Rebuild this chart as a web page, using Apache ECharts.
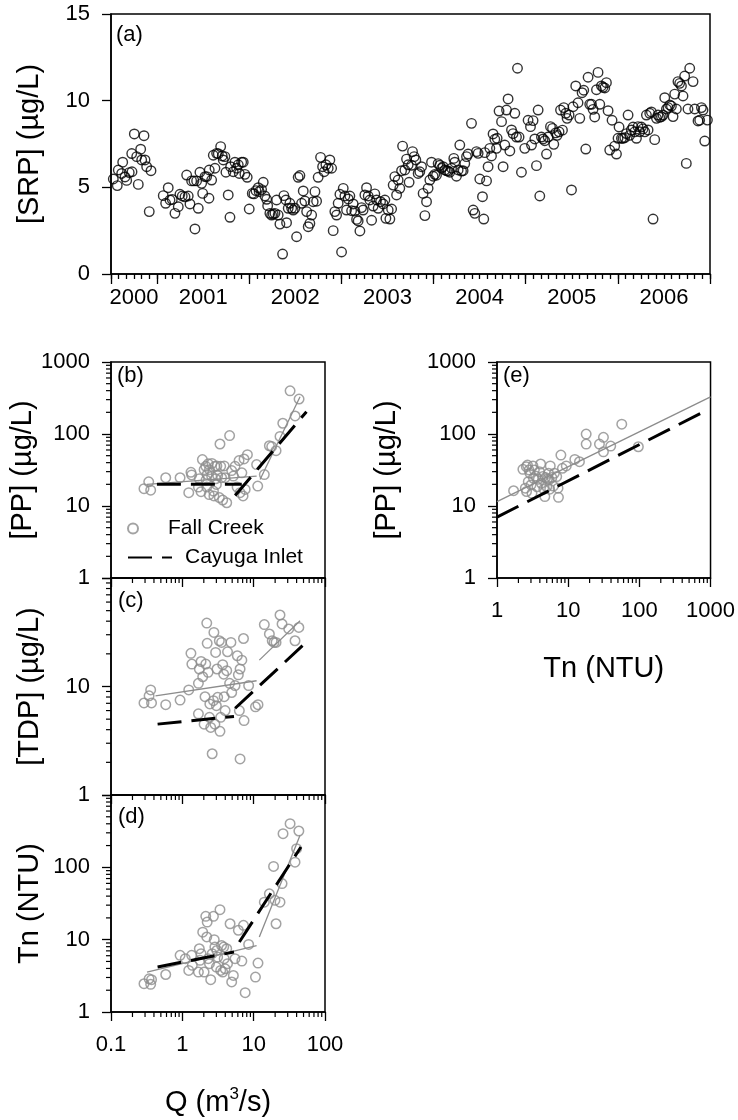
<!DOCTYPE html>
<html><head><meta charset="utf-8">
<script src="https://cdn.jsdelivr.net/npm/echarts@6/dist/echarts.min.js"></script>
<style>html,body{margin:0;padding:0;background:#fff}#c{width:738px;height:1120px}</style>
</head><body><div id="c"></div><script>
// ---------- DATA ----------
// (a) SRP time series
const srpYear = [2000.525,2000.568,2000.579,2000.616,2000.627,2000.652,2000.670,2000.698,2000.725,2000.728,2000.753,2000.779,2000.796,2000.822,2000.833,2000.858,2000.869,2000.887,2000.915,2000.934,
2001.067,2001.093,2001.121,2001.140,2001.165,2001.194,2001.230,2001.248,2001.273,2001.303,2001.321,2001.338,2001.357,2001.375,2001.400,2001.411,2001.429,2001.447,2001.465,2001.484,2001.495,2001.520,2001.538,2001.563,2001.566,2001.592,2001.610,2001.628,2001.646,2001.664,2001.690,2001.707,2001.718,2001.736,2001.747,2001.772,2001.791,2001.798,2001.826,2001.845,2001.863,2001.881,2001.892,2001.918,2001.935,2001.953,2001.978,2002.000,
2002.033,2002.051,2002.073,2002.098,2002.108,2002.134,2002.152,2002.170,2002.189,2002.200,2002.224,2002.243,2002.260,2002.279,2002.297,2002.314,2002.333,2002.362,2002.376,2002.398,2002.405,2002.423,2002.441,2002.460,2002.477,2002.496,2002.514,2002.531,2002.550,2002.568,2002.586,2002.604,2002.623,2002.640,2002.658,2002.677,2002.694,2002.713,2002.731,2002.748,2002.774,2002.796,2002.813,2002.832,2002.857,2002.875,2002.894,2002.911,2002.929,2002.948,2002.965,2002.984,2003.002,
2003.020,2003.038,2003.056,2003.074,2003.092,2003.111,2003.128,2003.146,2003.165,2003.182,2003.201,2003.219,2003.236,2003.255,2003.273,2003.291,2003.309,2003.328,2003.345,2003.363,2003.382,2003.399,2003.425,2003.453,2003.472,2003.483,2003.508,2003.526,2003.545,2003.562,2003.580,2003.599,2003.616,2003.634,2003.653,2003.664,2003.689,2003.707,2003.725,2003.735,2003.761,2003.772,2003.790,2003.808,2003.833,2003.851,2003.870,2003.887,2003.906,2003.924,2003.941,2003.960,2003.978,2003.996,
2004.014,2004.032,2004.050,2004.068,2004.087,2004.104,2004.123,2004.141,2004.158,2004.177,2004.195,2004.220,2004.231,2004.249,2004.267,2004.285,2004.304,2004.321,2004.339,2004.358,2004.375,2004.412,2004.430,2004.448,2004.466,2004.484,2004.502,2004.531,2004.545,2004.556,2004.575,2004.592,2004.611,2004.629,2004.646,2004.665,2004.683,2004.690,2004.711,2004.738,2004.755,2004.773,2004.792,2004.809,2004.828,2004.846,2004.863,2004.882,2004.900,2004.911,2004.928,2004.954,2004.990,
2005.026,2005.052,2005.063,2005.080,2005.099,2005.117,2005.135,2005.153,2005.171,2005.189,2005.207,2005.226,2005.243,2005.269,2005.291,2005.305,2005.326,2005.341,2005.362,2005.378,2005.399,2005.413,2005.435,2005.449,2005.471,2005.497,2005.514,2005.543,2005.568,2005.587,2005.612,2005.630,2005.652,2005.677,2005.695,2005.714,2005.731,2005.749,2005.768,2005.785,2005.804,2005.822,2005.839,2005.858,2005.876,2005.894,2005.912,2005.937,2005.966,2005.985,
2006.002,2006.013,2006.039,2006.056,2006.075,2006.093,2006.111,2006.129,2006.147,2006.165,2006.183,2006.202,2006.219,2006.237,2006.256,2006.273,2006.292,2006.310,2006.328,2006.346,2006.364,2006.382,2006.400,2006.419,2006.436,2006.454,2006.473,2006.490,2006.509,2006.527,2006.545,2006.563,2006.581,2006.599,2006.617,2006.635,2006.652,2006.671,2006.690,2006.707,2006.725,2006.743,2006.761,2006.780,2006.816,2006.834,2006.870,2006.888,2006.907,2006.924,2006.943,2006.972];
const srpValue = [5.48,5.10,6.00,5.80,6.45,5.60,5.40,5.85,6.95,5.90,8.08,6.77,5.17,7.20,6.58,7.98,6.58,6.19,3.60,5.96,
4.52,4.08,4.98,4.27,4.30,3.50,3.88,4.60,4.50,4.45,5.71,4.50,4.04,5.37,5.37,2.60,5.37,3.79,5.87,5.23,4.65,5.62,5.62,4.37,6.00,5.42,6.85,6.10,6.96,6.94,7.35,6.81,6.58,6.77,5.87,4.56,3.27,6.19,5.90,6.45,6.10,6.30,5.80,6.45,6.45,5.75,5.58,3.75,
4.65,4.62,4.81,4.98,4.75,4.87,5.29,4.50,4.31,3.94,3.50,3.40,3.46,3.50,4.27,3.40,2.88,1.15,4.52,4.27,2.96,3.79,4.08,3.79,3.69,3.79,2.15,5.58,5.68,4.08,4.79,4.21,3.60,2.73,2.92,3.40,4.17,4.75,4.20,5.58,6.73,6.19,5.90,6.30,6.10,6.58,6.10,2.50,3.60,3.40,4.08,4.60,1.27,
4.94,4.50,3.69,4.33,4.50,3.65,4.04,3.63,3.15,3.06,2.48,3.83,3.69,4.56,4.98,4.50,4.27,3.10,3.92,4.62,4.27,3.79,4.17,4.04,4.27,3.21,3.69,3.17,3.75,5.13,5.62,4.56,5.42,4.94,5.96,7.38,6.00,6.63,6.30,5.29,6.27,7.06,6.77,6.58,5.80,5.90,6.19,4.65,3.37,4.17,4.94,5.42,6.45,5.64,
5.75,5.70,6.37,6.27,6.10,6.19,6.00,5.96,5.94,5.87,6.10,6.67,6.45,5.64,6.00,7.44,5.94,5.96,6.37,6.77,6.92,8.69,3.69,3.50,7.06,6.96,5.48,4.46,3.17,7.00,5.37,6.19,7.25,6.81,8.08,7.77,7.25,7.83,9.40,8.79,6.19,7.44,9.46,10.10,7.10,8.31,8.10,9.27,7.90,11.87,7.90,5.87,7.25,
8.87,8.50,7.44,8.85,7.79,6.25,9.46,4.50,7.90,7.79,7.69,6.92,7.90,8.50,8.40,7.48,8.14,8.00,8.20,9.46,8.30,9.60,9.27,8.98,9.17,4.85,9.65,10.85,9.88,8.98,10.46,10.60,7.21,11.35,9.79,9.79,9.50,9.06,10.63,11.63,9.79,10.85,10.77,10.73,11.04,9.42,7.15,8.87,7.38,6.92,
7.83,8.48,7.83,7.83,7.87,8.10,9.17,8.00,8.31,8.48,8.20,7.83,8.50,8.21,8.48,8.37,8.20,9.17,8.31,9.27,9.35,3.17,7.75,8.98,9.17,9.04,9.08,9.17,10.17,9.52,9.60,9.75,9.69,9.08,10.38,9.52,11.10,11.00,10.85,10.27,11.42,6.38,9.52,11.87,11.10,9.52,8.83,8.87,9.60,9.46,7.67,8.88];
const yearLabelPos = [2000.75, 2001.5, 2002.5, 2003.5, 2004.5, 2005.5, 2006.5];
const yearLabels = ['2000', '2001', '2002', '2003', '2004', '2005', '2006'];

// (b) Q vs PP (Fall Creek)
const qB = [0.29,0.338,0.36,0.585,0.93,1.23,1.32,1.35,1.68,1.73,1.83,1.91,2.02,2.13,2.15,2.2,2.23,2.31,2.38,2.4,2.58,2.6,2.73,2.77,2.86,2.93,3.0,3.05,3.13,3.3,3.37,3.45,3.55,3.68,3.86,3.98,4.19,4.6,4.92,5.19,5.48,5.86,6.24,6.45,6.83,7.1,7.33,7.6,8.17,11.0,11.4,14.1,16.6,17.9,20.6,23.4,25.6,32.4,38.1,43.3];
const ppB = [17.4,21.7,16.6,24.7,24.7,15.3,29.4,27,18.3,23.9,15.8,44.1,32,35.6,22.9,18.3,27.4,38.5,14.4,32,25.9,39,16.1,13.8,35.6,23.9,19.9,36,26.5,13.1,72.6,35.6,24.7,12.1,36,24.7,11.1,95,31,26,35.6,18.3,42.7,15.3,28.9,13.8,45,17,51.6,37.6,18.9,27.3,68.7,67,58.7,92.5,141,398,178,306];
// (c) Q vs TDP
const qC = [0.29,0.342,0.36,0.37,0.585,0.93,1.23,1.32,1.36,1.68,1.68,1.73,1.83,1.93,2.02,2.08,2.13,2.2,2.23,2.3,2.4,2.43,2.5,2.62,2.73,2.77,2.86,2.93,3.0,3.06,3.13,3.3,3.37,3.45,3.55,3.68,3.8,3.86,3.98,4.19,4.3,4.6,4.8,4.92,5.48,5.9,6.1,6.3,6.45,6.83,7.2,7.33,6.45,8.5,10.6,11.5,14.1,16.6,18.2,19.3,20.6,23.4,25,31,38,43];
const tdpC = [7.05,8.2,9.3,7.05,6.8,7.5,9.3,20.2,16.1,10.7,5.6,14.5,17,12.3,4.5,8.05,16.1,38.4,25,13.5,5.2,6.9,4.2,2.4,7.4,31.5,4.5,20.6,6.65,14.5,7.95,26.4,3.86,5.2,25.5,15.9,13,8.05,6.0,14,20.9,10.7,25.5,8.8,10.2,19.2,12.8,6.0,14.5,17.5,27.7,4.85,2.15,10.2,6.5,6.8,37.2,30.5,26.4,25.5,25.5,45.6,37.7,33.9,26.4,35];
// (d) Q vs Tn
const qD = [0.29,0.342,0.36,0.37,0.585,0.93,1.1,1.23,1.35,1.38,1.68,1.73,1.77,1.83,1.93,2.02,2.13,2.2,2.23,2.3,2.4,2.5,2.62,2.73,2.8,2.86,3.0,3.05,3.13,3.37,3.45,3.55,3.68,3.8,3.86,3.98,4.19,4.3,4.67,4.92,5.19,5.48,6.1,6.83,7.2,7.6,8.5,10.6,11.5,14.1,16.6,19,19.9,20.6,23.4,25,25.8,32.4,38,40,43];
const tnD = [2.46,2.88,2.41,2.8,3.3,6.07,5.46,3.76,6.07,4.42,3.56,7.5,5.18,6.4,12.7,3.56,21,10.9,17.5,5.46,4.66,2.8,6.4,21,10,7.9,4.18,7.1,5.74,26,3.76,8.3,3.56,7.9,5.46,3.96,7.5,4.66,16.6,2.6,3.2,5.46,13.5,5.06,15.8,1.85,8.6,3.04,4.75,33,43,103,35,16.6,33,59.6,292,402,118,181,318];
// (e) Tn vs PP
const tnE = [1.71,2.31,2.5,2.58,2.6,2.68,2.75,2.82,2.9,3.0,3.1,3.2,3.25,3.35,3.5,3.65,3.8,3.95,4.1,4.2,4.4,4.55,4.7,4.8,5.0,5.1,5.3,5.4,5.5,5.6,5.9,6.2,6.4,6.9,7.2,7.3,7.9,8.3,9.4,12.4,14.4,17.9,17.9,27.5,31.3,31.3,39.6,56.6,96.8];
const ppE = [16.3,32.3,17.7,35.2,15.9,37,21.8,31.6,28.5,19.6,15,36,24.3,31.6,26,18.5,23.5,30,38.3,20.7,25.6,17.1,13.5,24.8,18.5,23.7,28.5,23.2,17.1,36,24.8,18.9,28.5,25.6,17.7,13.2,51,33.4,36,44.4,41.2,99.7,72.5,72.5,89.8,56.6,68,137,66.5];

// fitted segments: [[x1,y1],[x2,y2]]
const fcFitB = [[[0.32, 20], [11, 26]], [[12.3, 23.4], [44.7, 329]]];
const ciFitB = [[[0.44, 20], [6.8, 20]], [[5.5, 14], [55, 204]]];
const fcFitC = [[[0.42, 8.2], [11, 11.3]], [[12, 17.5], [44.7, 40.4]]];
const ciFitC = [[[0.45, 4.5], [5.3, 5.3]], [[5.5, 6.3], [55.6, 25.9]]];
const fcFitD = [[[0.32, 3.56], [11, 8.3]], [[12, 10.9], [44.7, 277]]];
const ciFitD = [[[0.45, 4.2], [5.3, 6.75]], [[6.3, 9.3], [46, 191]]];
const fcFitE = [[[1, 11.5], [1000, 327]]];
const ciFitE = [[[1, 7], [800, 203]]];

// ---------- STYLE / HELPERS ----------
const FONT = '"Liberation Sans", Arial, Helvetica, sans-serif';
const GRAY = '#8c8c8c';
const TICK_FS = 22, TITLE_FS = 29;
function pairs(xs, ys) { return xs.map((x, i) => [x, ys[i]]); }
function fmt(v) { return String(+(+v).toPrecision(6)); }
function minorLog(lo, hi) {
  const out = [];
  for (let e = Math.round(Math.log10(lo)); e < Math.round(Math.log10(hi)); e++)
    for (let m = 2; m <= 9; m++) out.push(+(m * Math.pow(10, e)).toPrecision(6));
  return out;
}
const lineBlack = { color: '#000', width: 1.5 };
const tickStyle = { color: '#000', width: 1.3 };
const labelBase = { color: '#000', fontFamily: FONT, fontSize: TICK_FS };
const nameBase = { color: '#000', fontFamily: FONT, fontSize: TITLE_FS };

function logXAxis(grid, min, max, show, name) {
  return {
    gridIndex: grid, type: 'log', logBase: 10, min, max, position: 'bottom',
    axisLine: { show: true, onZero: false, lineStyle: lineBlack },
    axisTick: { show: true, length: 9, lineStyle: tickStyle },
    splitLine: { show: false }, minorTick: { show: false },
    axisLabel: Object.assign({ show: show, margin: 22, formatter: fmt }, labelBase),
    name: name || '', nameLocation: 'middle', nameGap: 74,
    nameTextStyle: Object.assign({
      rich: {
        n: { fontSize: TITLE_FS, fontFamily: FONT, color: '#000', lineHeight: 33 },
        sup: { fontSize: 17, fontFamily: FONT, color: '#000', verticalAlign: 'top', lineHeight: 33, padding: [0, 0, 12, 0] }
      }
    }, nameBase)
  };
}
function logYAxis(grid, min, max, hide, name, gap) {
  return {
    gridIndex: grid, type: 'log', logBase: 10, min, max,
    axisLine: { show: true, onZero: false, lineStyle: lineBlack },
    axisTick: { show: true, length: 9, lineStyle: tickStyle },
    splitLine: { show: false }, minorTick: { show: false },
    axisLabel: Object.assign({ margin: 21, formatter: v => (hide.indexOf(+fmt(v)) >= 0 ? '' : fmt(v)) }, labelBase),
    name, nameLocation: 'middle', nameGap: gap, nameTextStyle: nameBase
  };
}
function tickSeries(xi, yi, vals, dim, anchor, len) {
  return {
    type: 'custom', xAxisIndex: xi, yAxisIndex: yi, clip: false, silent: true, z: 10,
    data: vals.map(v => dim === 'x' ? [v, anchor] : [anchor, v]),
    renderItem: (params, api) => {
      const p = api.coord([api.value(0), api.value(1)]);
      const shape = dim === 'x'
        ? { x1: p[0], y1: p[1], x2: p[0], y2: p[1] + len }
        : { x1: p[0], y1: p[1], x2: p[0] - len, y2: p[1] };
      return { type: 'line', shape, style: { stroke: '#000', lineWidth: 1.2 } };
    }
  };
}
function scatterGray(name, xi, yi, data) {
  return {
    name, type: 'scatter', xAxisIndex: xi, yAxisIndex: yi, data, symbol: 'circle', symbolSize: 9.5, z: 2,
    itemStyle: { color: 'rgba(255,255,255,0)', borderColor: GRAY, borderWidth: 1.5 }
  };
}
function segSeries(names, xi, yi, segs, dashed) {
  return segs.map((s, i) => ({
    name: names[i], type: 'line', xAxisIndex: xi, yAxisIndex: yi, data: s,
    symbol: 'none', showSymbol: false, z: dashed ? 4 : 3, silent: true,
    itemStyle: { color: 'rgba(0,0,0,0)', borderWidth: 0 },
    lineStyle: dashed ? { color: '#000', width: 3, type: [24, 10] } : { color: GRAY, width: 1.3 }
  }));
}

const grids = [
  { left: 111, top: 14, width: 599, height: 260 },
  { left: 111, top: 362, width: 214, height: 216 },
  { left: 111, top: 578, width: 214, height: 217 },
  { left: 111, top: 795, width: 214, height: 217 },
  { left: 497, top: 362, width: 214, height: 216 }
].map(g => Object.assign({ show: true, borderColor: '#000', borderWidth: 1.5, backgroundColor: 'transparent' }, g));

const xAxes = [
  { gridIndex: 0, type: 'value', min: 2000.5, max: 2007, interval: 0.25, position: 'bottom',
    axisLine: { show: true, onZero: false, lineStyle: lineBlack }, axisTick: { show: false }, splitLine: { show: false },
    axisLabel: Object.assign({ margin: 13, formatter: v => {
      const i = yearLabelPos.findIndex(p => Math.abs(p - v) < 1e-6); return i >= 0 ? yearLabels[i] : ''; } }, labelBase) },
  { gridIndex: 0, type: 'value', min: -2007, max: -2000.5, interval: 1, inverse: true, position: 'bottom',
    axisLine: { show: false, onZero: false }, axisTick: { show: true, length: 10, lineStyle: tickStyle },
    axisLabel: { show: false }, splitLine: { show: false } },
  { gridIndex: 0, type: 'value', min: 0, max: 78, interval: 1, position: 'bottom',
    axisLine: { show: false, onZero: false }, axisTick: { show: true, length: 5, lineStyle: tickStyle },
    axisLabel: { show: false }, splitLine: { show: false } },
  logXAxis(1, 0.1, 100, false),
  logXAxis(2, 0.1, 100, false),
  logXAxis(3, 0.1, 100, true, '{n|Q (m}{sup|3}{n|/s)}'),
  logXAxis(4, 1, 1000, true, '{n|Tn (NTU)}')
];
const yAxes = [
  { gridIndex: 0, type: 'value', min: 0, max: 15, interval: 5,
    axisLine: { show: true, onZero: false, lineStyle: lineBlack }, axisTick: { show: true, length: 9, lineStyle: tickStyle },
    splitLine: { show: false }, axisLabel: Object.assign({ margin: 21 }, labelBase),
    name: '[SRP] (µg/L)', nameLocation: 'middle', nameGap: 67, nameTextStyle: nameBase },
  logYAxis(1, 1, 1000, [], '[PP] (µg/L)', 67),
  logYAxis(2, 1, 100, [100], '[TDP] (µg/L)', 67),
  logYAxis(3, 1, 1000, [1000], 'Tn (NTU)', 67),
  logYAxis(4, 1, 1000, [], '[PP] (µg/L)', 96)
];

const series = [
  { name: 'SRP', type: 'scatter', xAxisIndex: 0, yAxisIndex: 0, data: pairs(srpYear, srpValue),
    symbol: 'circle', symbolSize: 9.5, itemStyle: { color: 'rgba(255,255,255,0)', borderColor: '#000', borderWidth: 1.4 } },
  scatterGray('Fall Creek', 3, 1, pairs(qB, ppB)),
  ...segSeries(['fcB1', 'fcB2'], 3, 1, fcFitB, false),
  ...segSeries(['Cayuga Inlet', 'ciB2'], 3, 1, ciFitB, true),
  scatterGray('fcC', 4, 2, pairs(qC, tdpC)),
  ...segSeries(['fcC1', 'fcC2'], 4, 2, fcFitC, false),
  ...segSeries(['ciC1', 'ciC2'], 4, 2, ciFitC, true),
  scatterGray('fcD', 5, 3, pairs(qD, tnD)),
  ...segSeries(['fcD1', 'fcD2'], 5, 3, fcFitD, false),
  ...segSeries(['ciD1', 'ciD2'], 5, 3, ciFitD, true),
  scatterGray('fcE', 6, 4, pairs(tnE, ppE)),
  ...segSeries(['fcE1'], 6, 4, fcFitE, false),
  ...segSeries(['ciE1'], 6, 4, ciFitE, true),
  // log minor ticks
  tickSeries(3, 1, minorLog(0.1, 100), 'x', 1, 5),
  tickSeries(4, 2, minorLog(0.1, 100), 'x', 1, 5),
  tickSeries(5, 3, minorLog(0.1, 100), 'x', 1, 5),
  tickSeries(6, 4, minorLog(1, 1000), 'x', 1, 5),
  tickSeries(3, 1, minorLog(1, 1000), 'y', 0.1, 5),
  tickSeries(4, 2, minorLog(1, 100), 'y', 0.1, 5),
  tickSeries(5, 3, minorLog(1, 1000), 'y', 0.1, 5),
  tickSeries(6, 4, minorLog(1, 1000), 'y', 1, 5)
];

const panelText = (t, x, y) => ({ type: 'text', x, y, style: { text: t, font: '22px ' + FONT, fill: '#000', textVerticalAlign: 'top' } });

const chart = echarts.init(document.getElementById('c'), null, { renderer: 'canvas' });
chart.setOption({
  animation: false,
  backgroundColor: '#fff',
  grid: grids,
  xAxis: xAxes,
  yAxis: yAxes,
  legend: [
    { data: ['Fall Creek'], left: 127, top: 518, padding: 0, itemWidth: 44, itemHeight: 10, selectedMode: false,
      textStyle: { fontFamily: FONT, fontSize: 21, color: '#000', padding: [0, 0, 0, 8] } },
    { data: ['Cayuga Inlet'], left: 127, top: 547, padding: 0, itemWidth: 44, itemHeight: 14, selectedMode: false,
      itemStyle: { color: 'rgba(0,0,0,0)', borderColor: 'rgba(0,0,0,0)', borderWidth: 0, opacity: 0 },
      textStyle: { fontFamily: FONT, fontSize: 21, color: '#000', padding: [0, 0, 0, 8] } }
  ],
  graphic: [
    panelText('(a)', 116, 24), panelText('(b)', 117, 365), panelText('(c)', 118, 590),
    panelText('(d)', 118, 806), panelText('(e)', 503, 365)
  ],
  series
});
</script></body></html>
